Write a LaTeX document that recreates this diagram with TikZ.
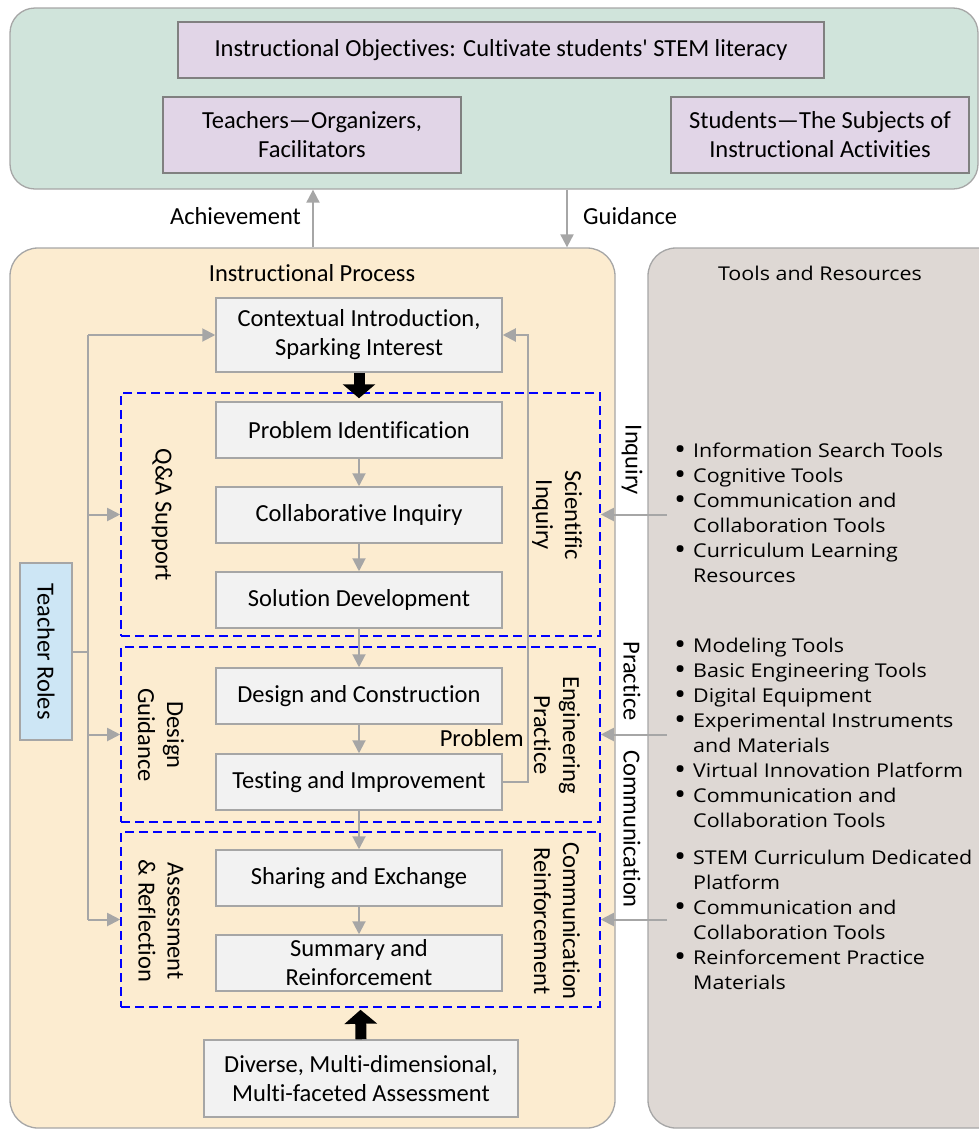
\documentclass[tikz,border=0pt]{standalone}
\usepackage{fontspec}
\setmainfont{Carlito}[Ligatures=NoCommon]
\newfontfamily\listfont{Open Sans}[FakeStretch=1.13]
\font\qfont="Carlito" at 24.5pt
\usetikzlibrary{arrows.meta,calc}
\definecolor{greenbg}{RGB}{208,228,219}
\definecolor{orangebg}{RGB}{252,236,208}
\definecolor{graybg}{RGB}{222,216,212}
\definecolor{lav}{RGB}{225,213,231}
\definecolor{boxfill}{RGB}{242,242,242}
\definecolor{rolefill}{RGB}{205,230,245}
\definecolor{lgray}{RGB}{166,166,166}
\definecolor{dgray}{RGB}{128,128,128}
\newcommand\mfs{\fontsize{24.5}{29}\selectfont}
\newcommand\lfs{\listfont\fontsize{19}{25}\selectfont}
\newcommand\itm[1]{\makebox[19pt][l]{\smash{\raisebox{-2pt}{\scalebox{1.5}{•}}}}#1}
\newcommand\cnt[1]{\hspace*{19pt}#1}
\begin{document}
\begin{tikzpicture}[x=1pt,y=-1pt,
  panel/.style={draw=lgray,line width=1.3pt,rounded corners=28pt,inner sep=0pt},
  objbox/.style={draw=dgray,fill=lav,line width=1.5pt,align=center,font=\mfs,inner sep=0pt},
  stepbox/.style={draw=lgray,fill=boxfill,line width=1.5pt,minimum width=286pt,minimum height=56pt,align=center,font=\mfs,inner sep=0pt},
  dashbox/.style={draw=blue,line width=1.6pt,dash pattern=on 9pt off 5pt,minimum width=479pt,inner sep=0pt},
  gline/.style={draw=lgray,line width=2pt},
  garrow/.style={draw=lgray,line width=2pt,-{Triangle[length=13pt,width=13pt,fill=lgray]}},
  bigarrow/.style={draw=black,line width=11pt,-{Triangle[length=14pt,width=32pt]}},
  sidelab/.style={rotate=-90,align=center,font=\mfs,inner sep=0pt},
  lab/.style={font=\mfs,inner sep=0pt},
  listtxt/.style={font=\lfs,align=left,anchor=north west,inner sep=0pt}]
\useasboundingbox (0,0) rectangle (979,1130);
\clip (0,0) rectangle (979,1130);
% panels
\node[panel,fill=greenbg,minimum width=968pt,minimum height=181pt,rounded corners=25pt] (green) at (494,98.5) {};
\node[panel,fill=orangebg,minimum width=605pt,minimum height=880pt] (orange) at (312.5,688) {};
\node[panel,fill=graybg,minimum width=362pt,minimum height=880pt] (gray) at (829,688) {};
% top boxes
\node[objbox,minimum width=646pt,minimum height=56pt] (obj) at (501,50) {Instructional Objectives: Cultivate students{\qfont\char39} STEM literacy};
\node[objbox,minimum width=298pt,minimum height=76pt] (teach) at (312,135) {Teachers—Organizers,\\Facilitators};
\node[objbox,minimum width=298pt,minimum height=76pt] (stud) at (820,135) {Students—The Subjects of\\Instructional Activities};
% achievement / guidance
\coordinate (ach) at (313,0);
\coordinate (gui) at (567,0);
\draw[garrow] (ach |- orange.north) -- (ach |- green.south);
\draw[garrow] (gui |- green.south) -- (gui |- orange.north);
\node[lab,anchor=east] (achl) at (301,216) {Achievement};
\node[lab,anchor=west] (guil) at (583,216) {Guidance};
% titles
\node[lab] (iptitle) at (312,273) {Instructional Process};
\node[font=\lfs,inner sep=0pt] (trtitle) at (820,273) {Tools and Resources};
% dashed boxes
\node[dashbox,minimum height=243pt] (box1) at (360.5,514.5) {};
\node[dashbox,minimum height=175pt] (box2) at (360.5,734.5) {};
\node[dashbox,minimum height=175pt] (box3) at (360.5,919.5) {};
% steps
\node[stepbox,minimum height=74pt] (ctx) at (359,335) {Contextual Introduction,\\Sparking Interest};
\node[stepbox] (pid) at (359,430) {Problem Identification};
\node[stepbox] (ci) at (359,515) {Collaborative Inquiry};
\node[stepbox] (sd) at (359,600) {Solution Development};
\node[stepbox] (dc) at (359,696) {Design and Construction};
\node[stepbox] (ti) at (359,782) {Testing and Improvement};
\node[stepbox] (se) at (359,878) {Sharing and Exchange};
\node[stepbox] (sr) at (359,963) {Summary and\\Reinforcement};
\node[stepbox,minimum width=314pt,minimum height=77pt] (div) at (361,1078.5) {Diverse, Multi-dimensional,\\Multi-faceted Assessment};
% teacher roles
\node[draw=lgray,fill=rolefill,line width=1.5pt,minimum width=52pt,minimum height=177pt,inner sep=0pt] (roles) at (46,651.5) {};
\node[sidelab] (rolestxt) at (roles.center) {Teacher Roles};
% flow arrows
\draw[bigarrow] (ctx.south) -- ([yshift=3pt]pid.north);
\draw[garrow] (pid.south) -- (ci.north);
\draw[garrow] (ci.south) -- (sd.north);
\draw[garrow] (sd.south) -- (dc.north);
\draw[garrow] (dc.south) -- (ti.north);
\draw[garrow] (ti.south) -- (se.north);
\draw[garrow] (se.south) -- (sr.north);
\draw[bigarrow] (div.north) -- ([yshift=-2pt]box3.south);
% feedback
\coordinate (fb) at (528,0);
\draw[garrow] (ti.east) -- (ti.east -| fb) -- (fb |- ctx.east) -- (ctx.east);
\node[lab,anchor=east] (prob) at (524,738) {Problem};
% teacher role trunk
\coordinate (trunk) at (88,0);
\draw[gline] (roles.east) -- (roles.east -| trunk);
\draw[gline] (trunk |- ctx.west) -- (trunk |- box3.west);
\draw[garrow] (trunk |- ctx.west) -- (ctx.west);
\draw[garrow] (trunk |- box1.west) -- (box1.west);
\draw[garrow] (trunk |- box2.west) -- (box2.west);
\draw[garrow] (trunk |- box3.west) -- (box3.west);
% side labels
\node[sidelab] (qa) at (162,515) {Q\&A Support};
\node[sidelab] (sci) at (557,515) {Scientific\\Inquiry};
\node[sidelab] (dg) at (161,735) {Design\\Guidance};
\node[sidelab] (ep) at (557,735) {Engineering\\Practice};
\node[sidelab] (ar) at (161,921) {Assessment\\\&\ Reflection};
\node[sidelab] (cr) at (557,921) {Communication\\Reinforcement};
% tools arrows
\coordinate (rs) at (667,0);
\draw[garrow] (rs |- box1.east) -- (box1.east);
\draw[garrow] (rs |- box2.east) -- (box2.east);
\draw[garrow] (rs |- box3.east) -- (box3.east);
\node[sidelab] (inq) at (632,460) {Inquiry};
\node[sidelab] (prac) at (632,681) {Practice};
\node[sidelab] (comm) at (632,829) {Communication};
% lists
\node[listtxt] (l1) at (674,443) {\itm{Information Search Tools}\\\itm{Cognitive Tools}\\\itm{Communication and}\\\cnt{Collaboration Tools}\\\itm{Curriculum Learning}\\\cnt{Resources}};
\node[listtxt] (l2) at (674,638) {\itm{Modeling Tools}\\\itm{Basic Engineering Tools}\\\itm{Digital Equipment}\\\itm{Experimental Instruments}\\\cnt{and Materials}\\\itm{Virtual Innovation Platform}\\\itm{Communication and}\\\cnt{Collaboration Tools}};
\node[listtxt] (l3) at (674,850) {\itm{STEM Curriculum Dedicated}\\\cnt{Platform}\\\itm{Communication and}\\\cnt{Collaboration Tools}\\\itm{Reinforcement Practice}\\\cnt{Materials}};
\end{tikzpicture}
\end{document}
